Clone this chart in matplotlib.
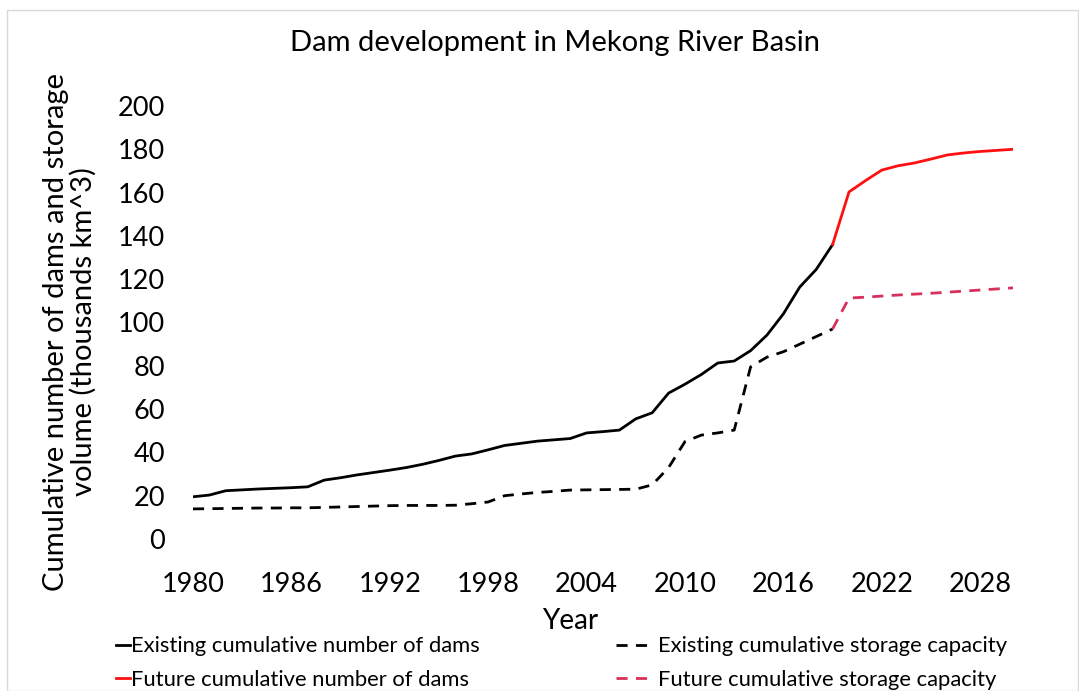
import matplotlib
matplotlib.use("Agg")
import matplotlib.pyplot as plt
from matplotlib.patches import Rectangle

# existing record 1980-2019, future projection 2019-2030
years_existing = list(range(1980, 2020))
dams_existing = [19.5, 20.3, 22.3, 22.7, 23.1, 23.4, 23.7, 24.1, 27.2, 28.3,
                 29.6, 30.7, 31.8, 33.0, 34.5, 36.3, 38.3, 39.3, 41.2, 43.2,
                 44.2, 45.2, 45.8, 46.4, 49.0, 49.6, 50.3, 55.5, 58.3, 67.4,
                 71.5, 76.0, 81.3, 82.2, 87.0, 94.2, 104.0, 116.4, 124.5, 136.0]
storage_existing = [13.9, 14.0, 14.1, 14.2, 14.3, 14.3, 14.4, 14.4, 14.6, 14.8,
                    15.0, 15.2, 15.4, 15.5, 15.5, 15.5, 15.6, 16.3, 17.1, 20.0,
                    20.8, 21.5, 22.0, 22.6, 22.7, 22.8, 22.9, 23.0, 25.0, 33.0,
                    45.0, 48.0, 49.0, 50.3, 79.5, 84.0, 86.5, 90.0, 93.5, 97.0]

years_future = list(range(2019, 2031))
dams_future = [136.0, 160.3, 165.5, 170.4, 172.4, 173.7, 175.5, 177.4, 178.3,
               179.0, 179.5, 180.0]
storage_future = [97.0, 111.3, 111.7, 112.2, 112.7, 113.1, 113.5, 114.0, 114.5,
                  115.0, 115.5, 116.0]

x_ticks = [1980, 1986, 1992, 1998, 2004, 2010, 2016, 2022, 2028]
y_ticks = list(range(0, 201, 20))

plt.rcParams['font.family'] = ['Lato', 'DejaVu Sans']

W, H = 1079, 691
fig = plt.figure(figsize=(W / 100, H / 100), dpi=100)
ax = fig.add_axes([193 / W, 1 - 539 / H, 820 / W, 433 / H])

l1, = ax.plot(years_existing, dams_existing, color='black', lw=2,
              label='Existing cumulative number of dams')
l2, = ax.plot(years_future, dams_future, color='#ff1010', lw=2,
              label='Future cumulative number of dams')
l3, = ax.plot(years_existing, storage_existing, color='black', lw=2,
              ls=(0, (4, 3)), label='Existing cumulative storage capacity')
l4, = ax.plot(years_future, storage_future, color='#d8305c', lw=2,
              ls=(0, (4, 3)), label='Future cumulative storage capacity')

ax.set_xlim(1980, 2030)
ax.set_ylim(0, 200)
ax.set_xticks(x_ticks)
ax.set_yticks(y_ticks)
ax.tick_params(axis='both', length=0, labelsize=19.5)
ax.tick_params(axis='y', pad=20)
ax.tick_params(axis='x', pad=24)
for s in ax.spines.values():
    s.set_visible(False)

fig.text(555 / W, 1 - 43 / H, 'Dam development in Mekong River Basin',
         fontsize=21, ha='center', va='center')
ax.set_xlabel('Year', fontsize=20)
ax.xaxis.set_label_coords((570 - 193) / 820, -(621 - 539) / 433)
ax.xaxis.label.set_va('center')
ax.set_ylabel('Cumulative number of dams and storage\nvolume (thousands km^3)',
              fontsize=21, linespacing=1.05)
ax.yaxis.set_label_coords(-(193 - 97) / 820, (539 - 332) / 433)

# two legend columns placed separately (dashed handle is longer)
fig.legend(handles=[l1, l2], frameon=False, fontsize=15.8,
           loc='center left', bbox_to_anchor=(105 / W, 1 - 663 / H),
           handlelength=0.65, handletextpad=0.05, labelspacing=0.62,
           borderpad=0)
fig.legend(handles=[l3, l4], frameon=False, fontsize=15.8,
           loc='center left', bbox_to_anchor=(605 / W, 1 - 663 / H),
           handlelength=1.6, handletextpad=0.3, labelspacing=0.62,
           borderpad=0)

# thin frame around the whole picture
fig.patches.append(Rectangle((7 / W, 0.0), 1 - 8 / W, 1 - 10 / H,
                             transform=fig.transFigure, fill=False,
                             edgecolor='#d9d9d9', lw=1))

fig.savefig('out.png', dpi=100)
